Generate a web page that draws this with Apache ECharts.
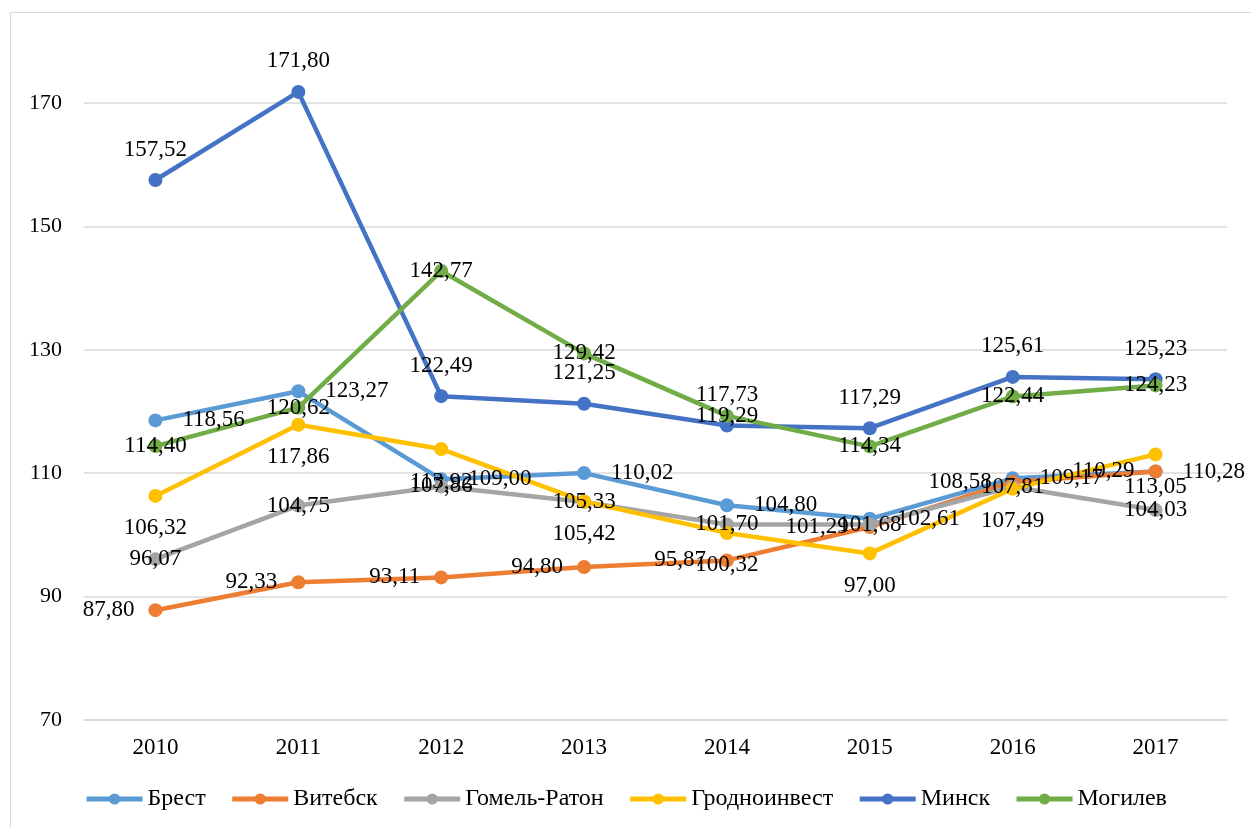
<!DOCTYPE html>
<html>
<head>
<meta charset="utf-8">
<script src="https://cdn.jsdelivr.net/npm/echarts@6/dist/echarts.min.js"></script>
<style>
    html, body { margin: 0; padding: 0; background: #fff; }
    #frame { position: absolute; left: 10px; top: 12px; width: 1248px; height: 820px; border: 1px solid #d9d9d9; box-sizing: border-box; }
    #chart { position: absolute; left: 0; top: 0; width: 1251px; height: 828px; }
</style>
</head>
<body>
<div id="frame"></div>
<div id="chart"></div>
<script>
const years = ['2010', '2011', '2012', '2013', '2014', '2015', '2016', '2017'];
const yTicks = [70, 90, 110, 130, 150, 170];

const brest = [118.56, 123.27, 109.00, 110.02, 104.80, 102.61, 109.17, 110.28];
const vitebsk = [87.80, 92.33, 93.11, 94.80, 95.87, 101.29, 108.58, 110.29];
const gomel = [96.07, 104.75, 107.86, 105.33, 101.70, 101.68, 107.81, 104.03];
const grodno = [106.32, 117.86, 113.92, 105.42, 100.32, 97.00, 107.49, 113.05];
const minsk = [157.52, 171.80, 122.49, 121.25, 117.73, 117.29, 125.61, 125.23];
const mogilev = [114.40, 120.62, 142.77, 129.42, 119.29, 114.34, 122.44, 124.23];

const font = '"Liberation Serif", "Times New Roman", serif';
const fmt = p => p.value.toFixed(2).replace('.', ',');

function line(name, data, color, pos, dist) {
    return {
        name: name,
        type: 'line',
        data: data,
        clip: false,
        symbol: 'circle',
        symbolSize: 14,
        lineStyle: { width: 4.5, color: color },
        itemStyle: { color: color },
        label: {
            show: true,
            position: pos,
            distance: dist,
            formatter: fmt,
            fontFamily: font,
            fontSize: 23,
            color: '#000'
        }
    };
}

const chart = echarts.init(document.getElementById('chart'));
chart.setOption({
    animation: false,
    grid: { left: 84, right: 24, top: 103, bottom: 108 },
    legend: {
        bottom: 12,
        left: 'center',
        itemWidth: 56,
        itemHeight: 14,
        itemGap: 24,
        lineStyle: { width: 5 },
        textStyle: { fontFamily: font, fontSize: 24, color: '#000' }
    },
    xAxis: {
        type: 'category',
        data: years,
        boundaryGap: true,
        axisLine: { show: true, lineStyle: { color: '#d9d9d9', width: 1.5 } },
        axisTick: { show: false },
        axisLabel: { fontFamily: font, fontSize: 23, color: '#000', margin: 16 }
    },
    yAxis: {
        type: 'value',
        min: yTicks[0],
        max: yTicks[yTicks.length - 1],
        interval: 20,
        axisLine: { show: false },
        axisTick: { show: false },
        splitLine: { lineStyle: { color: '#d9d9d9', width: 1.5 } },
        axisLabel: { fontFamily: font, fontSize: 22, color: '#000', margin: 22 }
    },
    series: [
        line('Брест', brest, '#5B9BD5', 'right', 20),
        line('Витебск', vitebsk, '#ED7D31', 'left', 14),
        line('Гомель-Ратон', gomel, '#A5A5A5', 'inside', 0),
        line('Гродноинвест', grodno, '#FFC000', 'bottom', 14),
        line('Минск', minsk, '#4472C4', 'top', 12),
        line('Могилев', mogilev, '#70AD47', 'inside', 0)
    ]
});
</script>
</body>
</html>
